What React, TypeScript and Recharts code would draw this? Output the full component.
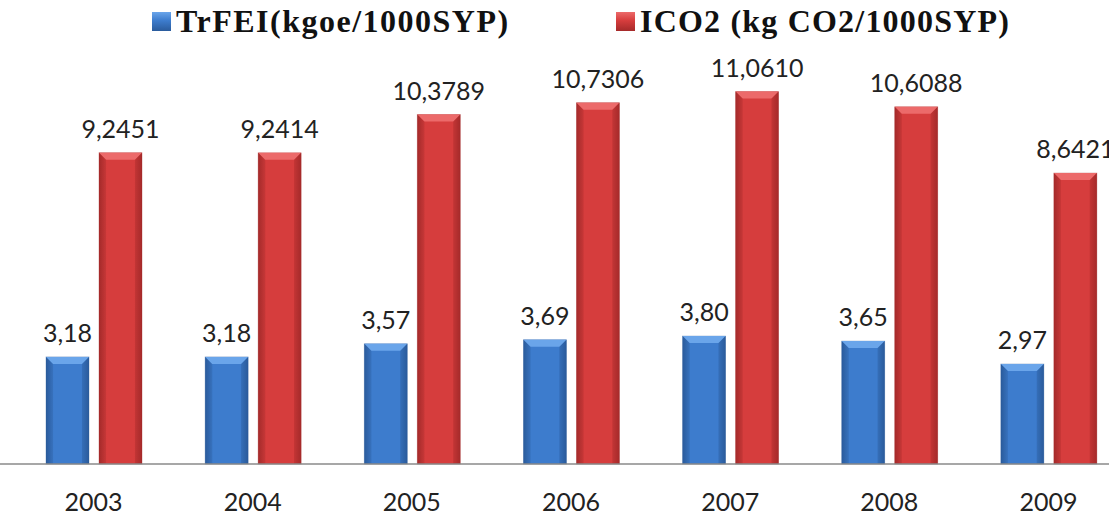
import React from 'react';
import { BarChart, Bar, XAxis, YAxis, Legend, LabelList } from 'recharts';

const years = ['2003', '2004', '2005', '2006', '2007', '2008', '2009'];
const trfei = [3.18, 3.18, 3.57, 3.69, 3.8, 3.65, 2.97];
const ico2 = [9.2451, 9.2414, 10.3789, 10.7306, 11.061, 10.6088, 8.6421];

const data = years.map((year, i) => ({ year, trfei: trfei[i], ico2: ico2[i] }));

const series = [
  { key: 'trfei', name: 'TrFEI(kgoe/1000SYP)', digits: 2, main: '#3d7ccd', light: '#6aa5ea', dark: '#2a5b9c' },
  { key: 'ico2', name: 'ICO2 (kg CO2/1000SYP)', digits: 4, main: '#d63d3d', light: '#ec6a6a', dark: '#a52a2a' },
];

const fmt = (digits: number) => (v: any) => Number(v).toFixed(digits).replace('.', ',');

const bevelShape = (s: typeof series[number]) => (props: any) => {
  const { x, y, width: w, height: h } = props;
  if (!h || h <= 0) return null;
  const b = Math.min(7, w / 4, h / 2);
  return (
    <g>
      <rect x={x} y={y} width={w} height={h} fill={`url(#grad-${s.key})`} stroke={s.dark} strokeOpacity={0.4} strokeWidth={0.8} />
      <polygon points={`${x},${y} ${x + w},${y} ${x + w - b},${y + b} ${x + b},${y + b}`} fill={s.light} />
      <polygon points={`${x},${y} ${x + b},${y + b} ${x + b},${y + h} ${x},${y + h}`} fill={s.dark} opacity={0.25} />
      <polygon points={`${x + w},${y} ${x + w - b},${y + b} ${x + w - b},${y + h} ${x + w},${y + h}`} fill={s.dark} opacity={0.35} />
    </g>
  );
};

const renderLegend = () => (
  <div style={{ position: 'relative', height: 46 }}>
    {series.map((s, i) => (
      <div
        key={s.key}
        style={{
          position: 'absolute',
          left: i === 0 ? 152 : 616,
          top: 0,
          display: 'flex',
          alignItems: 'center',
          fontFamily: '"Liberation Serif", serif',
          fontWeight: 'bold',
          fontSize: 32,
          letterSpacing: i === 0 ? 1.5 : 1.2,
          color: '#111',
          whiteSpace: 'nowrap',
        }}
      >
        <span
          style={{
            display: 'inline-block',
            width: 19,
            height: 19,
            marginRight: 5,
            background: `linear-gradient(180deg, ${s.light} 0%, ${s.main} 45%, ${s.dark} 100%)`,
          }}
        />
        {s.name}
      </div>
    ))}
  </div>
);

export default function App() {
  return (
    <div style={{ position: 'fixed', top: 0, left: 0, width: 1109, height: 518, overflow: 'hidden', background: '#fff' }}>
      <BarChart
        width={1128}
        height={518}
        data={data}
        margin={{ top: 60, right: 0, bottom: 0, left: 0 }}
        barCategoryGap={31}
        barGap={10}
      >
        <defs>
          {series.map((s) => (
            <linearGradient key={s.key} id={`grad-${s.key}`} x1="0" y1="0" x2="1" y2="0">
              <stop offset="0%" stopColor={s.dark} />
              <stop offset="18%" stopColor={s.main} />
              <stop offset="82%" stopColor={s.main} />
              <stop offset="100%" stopColor={s.dark} />
            </linearGradient>
          ))}
        </defs>
        <Legend
          verticalAlign="middle"
          align="center"
          content={renderLegend}
          wrapperStyle={{ top: 3, left: 0, width: 1109 }}
        />
        <XAxis
          dataKey="year"
          height={54}
          padding={{ left: 14, right: 0 }}
          axisLine={{ stroke: '#8a8a8a', strokeWidth: 1.5 }}
          tickLine={false}
          tickMargin={23}
          tick={{ fill: '#222', fontSize: 25, fontFamily: 'Lato, "Open Sans", sans-serif' }}
        />
        <YAxis hide domain={[0, 12]} />
        {series.map((s) => (
          <Bar
            key={s.key}
            dataKey={s.key}
            name={s.name}
            barSize={43}
            fill={s.main}
            shape={bevelShape(s)}
            isAnimationActive={false}
          >
            <LabelList
              dataKey={s.key}
              position="top"
              offset={15}
              formatter={fmt(s.digits)}
              style={{ fill: '#222', fontSize: 25, fontFamily: 'Lato, "Open Sans", sans-serif' }}
            />
          </Bar>
        ))}
      </BarChart>
    </div>
  );
}
